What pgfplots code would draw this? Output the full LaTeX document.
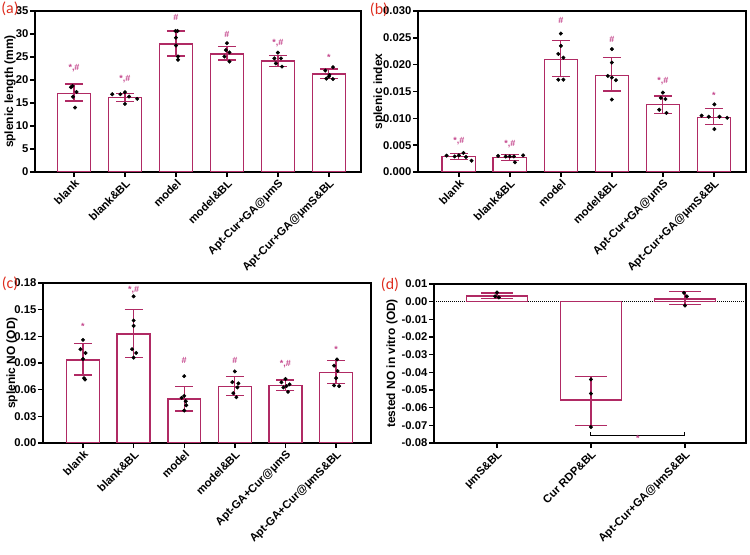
\documentclass[border=0pt]{standalone}
\usepackage{fontspec}
\setmainfont{Liberation Sans}
\newfontfamily\carlito{Carlito}
\usepackage{pgfplots}
\pgfplotsset{compat=1.18}
\definecolor{barc}{RGB}{176,42,100}
\definecolor{sigc}{RGB}{196,70,140}
\definecolor{labc}{RGB}{222,45,30}
\tikzset{sig/.style={text=sigc, font=\fontsize{9}{9}\selectfont\bfseries, inner sep=0pt},
  plab/.style={text=labc, font=\carlito\fontsize{16}{16}\selectfont, inner sep=0pt}}
\pgfplotsset{
 panel/.style={
  scale only axis,
  axis line style={line width=1.6bp},
  tick pos=left, tick align=outside,
  major tick length=5bp,
  tick style={black, line width=1.4bp},
  xtick={0,...,5},
  x tick label style={rotate=45, anchor=north east, font=\fontsize{11.3}{12}\selectfont\bfseries, inner sep=1bp},
  y tick label style={font=\fontsize{11.3}{12}\selectfont\bfseries, inner sep=1.5bp},
  /pgf/number format/assume math mode=true,
  scaled y ticks=false,
 },
 ylab/.style={every axis y label/.style={rotate=90, anchor=center,
   at={([xshift=-#1]axis description cs:0,0.5)}, font=\fontsize{12}{13}\selectfont\bfseries}},
 bars/.style={ybar, bar width=0.65, fill=white, draw=barc, line width=1.5bp,
   error bars/.cd, y dir=both, y explicit, error mark=|,
   error bar style={line width=1.2bp, barc},
   error mark options={barc, line width=1.2bp, mark size=#1}},
 bars/.default=9bp,
 dots/.style={only marks, mark=*, mark size=1.8bp, black},
}
\pgfplotstableread{
x y ep em
0 17.05 2.1 1.6
1 16.15 0.95 0.75
2 27.85 2.8 2.65
3 25.65 1.55 1.3
4 24.1 1.25 1.2
5 21.25 1.15 0.95
}\dataA
\pgfplotstableread{
x y ep em
0 0.00293 0.00057 0.00053
1 0.0027 0.0005 0.0005
2 0.0210 0.0035 0.0032
3 0.0180 0.0034 0.0029
4 0.01257 0.0016 0.0016
5 0.0102 0.0016 0.0014
}\dataB
\pgfplotstableread{
x y ep em
0 0.0934 0.0184 0.0170
1 0.1228 0.0278 0.0264
2 0.0497 0.0143 0.0136
3 0.0633 0.0112 0.0098
4 0.0648 0.0060 0.0053
5 0.0795 0.0131 0.0125
}\dataC
\pgfplotstableread{
x y ep em
0 0.00316 0.0017 0.0014
1 -0.0557 0.0134 0.0143
2 0.00145 0.0041 0.0031
}\dataD
\begin{document}
\begin{tikzpicture}
\useasboundingbox (0bp,0bp) rectangle (750bp,555bp);
% (a)
\begin{axis}[panel, ylab=25bp, at={(35bp,383bp)}, anchor=south west, width=326bp, height=161bp,
  xmin=-0.765, xmax=5.63, ymin=0, ymax=35, ytick={0,5,...,35},
  ylabel={splenic length (mm)},
  xticklabels={blank,blank\&BL,model,model\&BL,Apt-Cur+GA@μmS,Apt-Cur+GA@μmS\&BL}]
\addplot[bars] table[x=x,y=y,y error plus=ep,y error minus=em] {\dataA};
\addplot[dots] coordinates {
(-0.03,18.7)(0.05,17.4)(-0.02,16.35)(0.02,14.0)(-0.06,18.4)
(0.75,16.9)(0.91,16.9)(1,17.35)(1.08,16.4)(1.24,15.9)(1,14.8)
(1.99,30.65)(2.03,30.65)(2,29.2)(2,27.5)(2.04,25.1)(2.04,24.4)
(3,28.0)(2.98,26.5)(3.05,26.0)(2.95,25.1)(3.05,24.0)
(4,25.95)(3.93,24.7)(4.06,24.7)(3.96,23.6)(4.08,22.9)
(5.08,22.8)(4.93,22.05)(5.01,21.1)(4.95,20.3)(5.08,20.2)(5,20.75)};
\node[sig] at (axis cs:0,22.6) {*,\#};
\node[sig] at (axis cs:1,20.2) {*,\#};
\node[sig] at (axis cs:2,33.6) {\#};
\node[sig] at (axis cs:3,29.9) {\#};
\node[sig] at (axis cs:4,28.1) {*,\#};
\node[sig] at (axis cs:5,24.9) {*};
\end{axis}
% (b)
\begin{axis}[panel, ylab=39bp, at={(418bp,383bp)}, anchor=south west, width=328bp, height=161bp,
  xmin=-0.8, xmax=5.63, ymin=0, ymax=0.03, ytick={0,0.005,...,0.0301},
  yticklabel style={/pgf/number format/.cd, fixed, fixed zerofill, precision=3},
  ylabel={splenic index},
  xticklabels={blank,blank\&BL,model,model\&BL,Apt-Cur+GA@μmS,Apt-Cur+GA@μmS\&BL}]
\addplot[bars] table[x=x,y=y,y error plus=ep,y error minus=em] {\dataB};
\addplot[dots] coordinates {
(-0.24,0.00305)(-0.08,0.0029)(0,0.0031)(0.09,0.00355)(0.25,0.0021)(0.14,0.0028)
(0.77,0.0030)(0.92,0.0029)(1,0.0029)(1.08,0.0029)(1.26,0.0031)(1.1,0.0018)
(2,0.0258)(2,0.0235)(1.95,0.022)(2.05,0.0213)(1.95,0.0172)(2.05,0.0172)
(3,0.0229)(3,0.0204)(2.92,0.0179)(3,0.0176)(3.08,0.0171)(3,0.0135)
(4,0.0148)(3.96,0.0138)(4.05,0.0136)(3.93,0.0116)(4.07,0.011)
(5.01,0.0126)(4.76,0.0105)(4.9,0.0103)(5.11,0.0103)(5.26,0.0101)(5.01,0.008)};
\node[sig] at (axis cs:0,0.0058) {*,\#};
\node[sig] at (axis cs:1,0.0052) {*,\#};
\node[sig] at (axis cs:2,0.0283) {\#};
\node[sig] at (axis cs:3,0.0247) {\#};
\node[sig] at (axis cs:4,0.0169) {*,\#};
\node[sig] at (axis cs:5,0.0143) {*};
\end{axis}
% (c)
\begin{axis}[panel, ylab=31bp, at={(43bp,112bp)}, anchor=south west, width=328bp, height=160bp,
  xmin=-0.79, xmax=5.69, ymin=0, ymax=0.18, ytick={0,0.03,...,0.181},
  yticklabel style={/pgf/number format/.cd, fixed, fixed zerofill, precision=2},
  ylabel={splenic NO (OD)},
  xticklabels={blank,blank\&BL,model,model\&BL,Apt-GA+Cur@μmS,Apt-GA+Cur@μmS\&BL}]
\addplot[bars] table[x=x,y=y,y error plus=ep,y error minus=em] {\dataC};
\addplot[dots] coordinates {
(0,0.116)(-0.05,0.1055)(0.05,0.1013)(0,0.0945)(0.02,0.073)(0.04,0.0715)
(1,0.165)(1,0.1378)(1,0.1318)(0.97,0.1055)(1.05,0.1013)(1,0.096)
(2,0.0752)(2,0.053)(1.95,0.0508)(2.03,0.047)(2.04,0.0425)(2,0.0365)
(3,0.0805)(2.95,0.0685)(3.07,0.067)(3.05,0.0625)(2.97,0.056)(3.03,0.0515)
(4,0.072)(3.92,0.0683)(4.08,0.066)(4.02,0.064)(3.96,0.0625)(4.05,0.0575)
(5.02,0.094)(4.96,0.087)(5.03,0.081)(5,0.073)(4.96,0.0648)(5.06,0.064)};
\node[sig] at (axis cs:0,0.131) {*};
\node[sig] at (axis cs:1,0.1717) {*,\#};
\node[sig] at (axis cs:2,0.0926) {\#};
\node[sig] at (axis cs:3,0.0926) {\#};
\node[sig] at (axis cs:4,0.0889) {*,\#};
\node[sig] at (axis cs:5,0.1058) {*};
\end{axis}
% (d)
\begin{axis}[panel, ylab=42bp, at={(434bp,112bp)}, anchor=south west, width=312bp, height=159bp,
  xmin=-0.67, xmax=2.65, ymin=-0.08, ymax=0.01, ytick={-0.08,-0.07,...,0.011},
  xtick={0,1,2},
  yticklabel style={/pgf/number format/.cd, fixed, fixed zerofill, precision=2},
  ylabel={tested NO in vitro (OD)},
  xticklabels={μmS\&BL,Cur RDP\&BL,Apt-Cur+GA@μmS\&BL}]
\addplot[black, densely dotted, line width=1bp] coordinates {(-0.67,0) (2.65,0)};
\addplot[bars=16bp] table[x=x,y=y,y error plus=ep,y error minus=em] {\dataD};
\addplot[dots] coordinates {
(0,0.0052)(-0.02,0.003)(0.02,0.0024)
(1,-0.044)(1,-0.052)(1,-0.071)
(1.99,0.005)(2.02,0.003)(2,-0.0022)};
\draw[black, line width=1bp] (axis cs:1,-0.0739) -- (axis cs:1,-0.0755) -- (axis cs:2,-0.0755) -- (axis cs:2,-0.0739);
\node[sig] at (axis cs:1.5,-0.0775) {*};
\end{axis}
\node[plab] at (10bp,546bp) {(a)};
\node[plab] at (379bp,545bp) {(b)};
\node[plab] at (10bp,271bp) {(c)};
\node[plab] at (390bp,270bp) {(d)};
\end{tikzpicture}
\end{document}
